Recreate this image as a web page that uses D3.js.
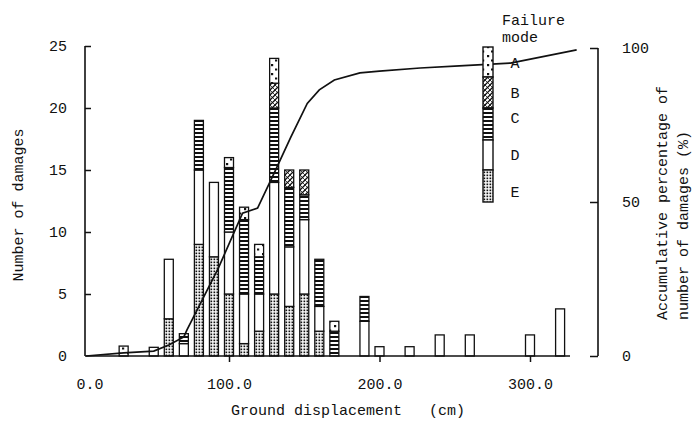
<!DOCTYPE html>
<html>
<head>
<meta charset="utf-8">
<script src="https://cdn.jsdelivr.net/npm/d3@7"></script>
<style>
  html, body { margin: 0; padding: 0; background: #fff; }
  svg { display: block; }
  text { font-family: "Liberation Mono", "DejaVu Sans Mono", monospace; font-size: 15px; fill: #111; }
</style>
</head>
<body>
<svg id="chart" width="696" height="425"></svg>
<script>
// ---- data ----
const displacement = [30, 50, 60, 70, 80, 90, 100, 110, 120, 130, 140, 150, 160, 170, 190, 200, 220, 240, 260, 300, 320];
const modeE = [0, 0, 3, 0, 9, 8, 5, 1, 2, 5, 4, 5, 2, 0, 0, 0, 0, 0, 0, 0, 0];
const modeD = [0, 0.7, 4.8, 1, 6, 6, 5, 4, 3, 9, 4.8, 6, 2, 0, 2.8, 0.75, 0.75, 1.7, 1.7, 1.7, 3.8];
const modeC = [0, 0, 0, 0.8, 4, 0, 5.2, 6, 3, 6, 4.8, 2, 3.8, 2, 2, 0, 0, 0, 0, 0, 0];
const modeB = [0, 0, 0, 0, 0, 0, 0, 0, 0, 2, 1.4, 2, 0, 0, 0, 0, 0, 0, 0, 0, 0];
const modeA = [0.8, 0, 0, 0, 0, 0, 0.8, 1, 1, 2, 0, 0, 0, 0.8, 0, 0, 0, 0, 0, 0, 0];

const curveCm  = [5, 30, 50, 60, 70, 72, 93, 109, 119, 131, 141, 152, 160, 170, 187, 200, 227, 253, 287, 331];
const curvePct = [0, 1, 1.6, 3.6, 6.2, 8.4, 28.6, 46.4, 48, 60.4, 71, 82, 86.4, 89.6, 91.9, 92.5, 93.5, 94.2, 95.1, 99.4];

const xTickValues = [0, 100, 200, 300];
const xTickLabels = ["0.0", "100.0", "200.0", "300.0"];
const yTickValues = [0, 5, 10, 15, 20, 25];
const pctTickValues = [0, 50, 100];
const modeKeys = ["E", "D", "C", "B", "A"];
const legendKeys = ["A", "B", "C", "D", "E"];

// ---- layout ----
const svg = d3.select("#chart");
const x = d3.scaleLinear().domain([0, 300]).range([78.5, 530]);
const y = d3.scaleLinear().domain([0, 25]).range([356, 46]);
const yPct = d3.scaleLinear().domain([0, 100]).range([356, 48]);
const axisX0 = 85;       // left axis position
const axisXEnd = 570;    // end of the bottom axis line
const rightAxisX = 598;
const barW = 9;

// ---- patterns ----
const defs = svg.append("defs");
// A: sparse blobs
let p = defs.append("pattern").attr("id", "pat-A").attr("patternUnits", "userSpaceOnUse")
  .attr("width", 9).attr("height", 9);
p.append("rect").attr("width", 9).attr("height", 9).attr("fill", "#fff");
p.append("rect").attr("x", 1).attr("y", 1).attr("width", 2.2).attr("height", 2.2).attr("fill", "#111");
p.append("rect").attr("x", 5).attr("y", 5.5).attr("width", 2.2).attr("height", 2).attr("fill", "#111");
// B: cross hatching
p = defs.append("pattern").attr("id", "pat-B").attr("patternUnits", "userSpaceOnUse")
  .attr("width", 5).attr("height", 5);
p.append("rect").attr("width", 5).attr("height", 5).attr("fill", "#fff");
p.append("path").attr("d", "M0,5 L5,0 M-1,1 L1,-1 M4,6 L6,4").attr("stroke", "#111").attr("stroke-width", 1.3);
p.append("path").attr("d", "M0,0 L5,5").attr("stroke", "#111").attr("stroke-width", 0.8);
// C: horizontal stripes
p = defs.append("pattern").attr("id", "pat-C").attr("patternUnits", "userSpaceOnUse")
  .attr("width", 4).attr("height", 4);
p.append("rect").attr("width", 4).attr("height", 4).attr("fill", "#fff");
p.append("rect").attr("y", 0).attr("width", 4).attr("height", 2).attr("fill", "#111");
// D: blank
p = defs.append("pattern").attr("id", "pat-D").attr("patternUnits", "userSpaceOnUse")
  .attr("width", 4).attr("height", 4);
p.append("rect").attr("width", 4).attr("height", 4).attr("fill", "#fff");
// E: fine stipple
p = defs.append("pattern").attr("id", "pat-E").attr("patternUnits", "userSpaceOnUse")
  .attr("width", 3).attr("height", 3);
p.append("rect").attr("width", 3).attr("height", 3).attr("fill", "#fff");
p.append("rect").attr("x", 0.5).attr("y", 0.5).attr("width", 1.7).attr("height", 1.7).attr("fill", "#111");

// ---- bars ----
const rows = displacement.map((d, i) => ({
  x: d, E: modeE[i], D: modeD[i], C: modeC[i], B: modeB[i], A: modeA[i]
}));
const stacked = d3.stack().keys(modeKeys)(rows);
const barG = svg.append("g");
stacked.forEach(series => {
  barG.selectAll(null)
    .data(series.filter(d => d[1] - d[0] > 0))
    .join("rect")
    .attr("x", d => x(d.data.x) - barW / 2)
    .attr("y", d => y(d[1]))
    .attr("width", barW)
    .attr("height", d => y(d[0]) - y(d[1]))
    .attr("fill", `url(#pat-${series.key})`)
    .attr("stroke", "#111")
    .attr("stroke-width", 1.3);
});

// ---- axes ----
// left axis
const yAxis = d3.axisLeft(y).tickValues(yTickValues).tickSize(-6).tickSizeOuter(0).tickPadding(18);
const gy = svg.append("g").attr("transform", `translate(${axisX0},0)`).call(yAxis);
gy.select(".domain").remove();
gy.selectAll(".tick line").attr("stroke", "#111").attr("stroke-width", 1.5);
gy.selectAll(".tick").filter(d => d === 0).select("line").remove();
gy.selectAll("text").style("font-family", '"Liberation Mono", monospace').style("font-size", "15px").attr("fill", "#111");
svg.append("line").attr("x1", axisX0).attr("x2", axisX0).attr("y1", y(25)).attr("y2", y(0))
  .attr("stroke", "#111").attr("stroke-width", 1.6);

// bottom axis
const xAxis = d3.axisBottom(x).tickValues(xTickValues)
  .tickFormat((d, i) => xTickLabels[i]).tickSize(6).tickSizeOuter(0).tickPadding(16);
const gx = svg.append("g").attr("transform", `translate(0,${y(0)})`).call(xAxis);
gx.select(".domain").remove();
gx.selectAll(".tick line").attr("stroke", "#111").attr("stroke-width", 1.5);
gx.selectAll(".tick").filter(d => d === 0).select("line").remove();
gx.selectAll(".tick").filter(d => d === 0).select("text").attr("dx", 11);
gx.selectAll("text").style("font-family", '"Liberation Mono", monospace').style("font-size", "15px").attr("fill", "#111");
svg.append("line").attr("x1", axisX0).attr("x2", axisXEnd).attr("y1", y(0)).attr("y2", y(0))
  .attr("stroke", "#111").attr("stroke-width", 1.6);

// right axis
const rAxis = d3.axisRight(yPct).tickValues(pctTickValues).tickSize(-8).tickSizeOuter(0).tickPadding(24);
const gr = svg.append("g").attr("transform", `translate(${rightAxisX},0)`).call(rAxis);
gr.select(".domain").remove();
gr.selectAll(".tick line").attr("stroke", "#111").attr("stroke-width", 1.5);
gr.selectAll("text").style("font-family", '"Liberation Mono", monospace').style("font-size", "15px").attr("fill", "#111");
svg.append("line").attr("x1", rightAxisX).attr("x2", rightAxisX).attr("y1", yPct(100)).attr("y2", yPct(0))
  .attr("stroke", "#111").attr("stroke-width", 1.6);

// ---- cumulative curve ----
const curvePts = curveCm.map((c, i) => [c, curvePct[i]]);
svg.append("path")
  .datum(curvePts)
  .attr("d", d3.line().x(d => x(d[0])).y(d => yPct(d[1])))
  .attr("fill", "none").attr("stroke", "#111").attr("stroke-width", 1.7);

// ---- legend ----
const legX = 483, legTop = 47, legSeg = [30, 31, 32, 30, 32];
let acc = legTop;
const legG = svg.append("g");
legendKeys.forEach((k, i) => {
  legG.append("rect").attr("x", legX).attr("y", acc).attr("width", 10).attr("height", legSeg[i])
    .attr("fill", `url(#pat-${k})`).attr("stroke", "#111").attr("stroke-width", 1.4);
  acc += legSeg[i];
});
const legLabelY = [68, 98, 123, 160, 197];
legendKeys.forEach((k, i) => {
  legG.append("text").attr("x", 515).attr("y", legLabelY[i]).attr("text-anchor", "middle").text(k);
});
svg.append("text").attr("x", 502).attr("y", 25).text("Failure");
svg.append("text").attr("x", 502).attr("y", 42).text("mode");

// ---- titles ----
svg.append("text").attr("transform", "translate(23,205) rotate(-90)").attr("text-anchor", "middle")
  .text("Number of damages");
svg.append("text").attr("x", 231).attr("y", 415).style("white-space", "pre")
  .text("Ground displacement   (cm)");
svg.append("text").attr("transform", "translate(667,320) rotate(-90)")
  .text("Accumulative percentage of");
svg.append("text").attr("transform", "translate(688,320) rotate(-90)").style("white-space", "pre")
  .text("number of damages (%)");
</script>
</body>
</html>
